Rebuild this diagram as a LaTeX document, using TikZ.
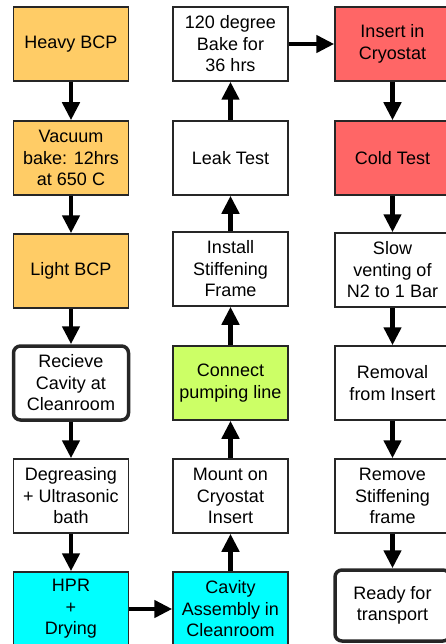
\documentclass[tikz,border=0pt]{standalone}
\usepackage{fontspec}
\setmainfont{Liberation Sans}
\usetikzlibrary{arrows.meta}
\definecolor{borange}{RGB}{255,204,102}
\definecolor{bred}{RGB}{255,102,102}
\definecolor{bcyan}{RGB}{0,255,255}
\definecolor{bgreen}{RGB}{204,255,102}
\begin{document}
\begin{tikzpicture}[x=1pt,y=-1pt,
 box/.style={draw=black!85, line width=1.5pt, minimum width=115pt, minimum height=74pt, inner sep=0pt, align=center, font=\fontsize{18}{21.5}\selectfont},
 rbox/.style={box, line width=3.5pt, rounded corners=7pt},
 flow/.style={line width=4.5pt, -{Triangle[length=18pt,width=17pt]}}]
\useasboundingbox (0,0) rectangle (445,644);
% column 1
\node[box, fill=borange] (h1) at (71,44) {Heavy BCP};
\node[box, fill=borange] (vb) at (71,158) {Vacuum\\bake: 12hrs\\at 650 C};
\node[box, fill=borange] (lb) at (71,271) {Light BCP};
\node[rbox, fill=white] (rc) at (71,383) {Recieve\\Cavity at\\Cleanroom};
\node[box, fill=white] (dg) at (71,496) {Degreasing\\+ Ultrasonic\\bath};
\node[box, fill=bcyan] (hpr) at (71,609) {HPR\\+\\Drying};
% column 2
\node[box, fill=bcyan] (ca) at (230.5,609) {Cavity\\Assembly in\\Cleanroom};
\node[box, fill=white] (mo) at (230.5,496) {Mount on\\Cryostat\\Insert};
\node[box, fill=bgreen] (cp) at (230.5,383) {Connect\\pumping line};
\node[box, fill=white] (is) at (230.5,269) {Install\\Stiffening\\Frame};
\node[box, fill=white] (lt) at (230.5,158) {Leak Test};
\node[box, fill=white] (bk) at (230.5,44) {120 degree\\Bake for\\36 hrs};
% column 3
\node[box, fill=bred] (ic) at (392.5,44) {Insert in\\Cryostat};
\node[box, fill=bred] (ct) at (392.5,158) {Cold Test};
\node[box, fill=white] (sv) at (392.5,270) {Slow\\venting of\\N2 to 1 Bar};
\node[box, fill=white] (rm) at (392.5,383) {Removal\\from Insert};
\node[box, fill=white] (rs) at (392.5,496) {Remove\\Stiffening\\frame};
\node[rbox, fill=white, minimum height=71pt] (rt) at (392.5,605.5) {Ready for\\transport};
% connectors
\draw[flow] (h1) -- (vb);
\draw[flow] (vb) -- (lb);
\draw[flow] (lb) -- (rc);
\draw[flow] (rc) -- (dg);
\draw[flow] (dg) -- (hpr);
\draw[flow] (hpr) -- (ca);
\draw[flow] (ca) -- (mo);
\draw[flow] (mo) -- (cp);
\draw[flow] (cp) -- (is);
\draw[flow] (is) -- (lt);
\draw[flow] (lt) -- (bk);
\draw[flow] (bk) -- (ic);
\draw[flow] (ic) -- (ct);
\draw[flow] (ct) -- (sv);
\draw[flow] (sv) -- (rm);
\draw[flow] (rm) -- (rs);
\draw[flow] (rs) -- (rt);
\end{tikzpicture}
\end{document}
